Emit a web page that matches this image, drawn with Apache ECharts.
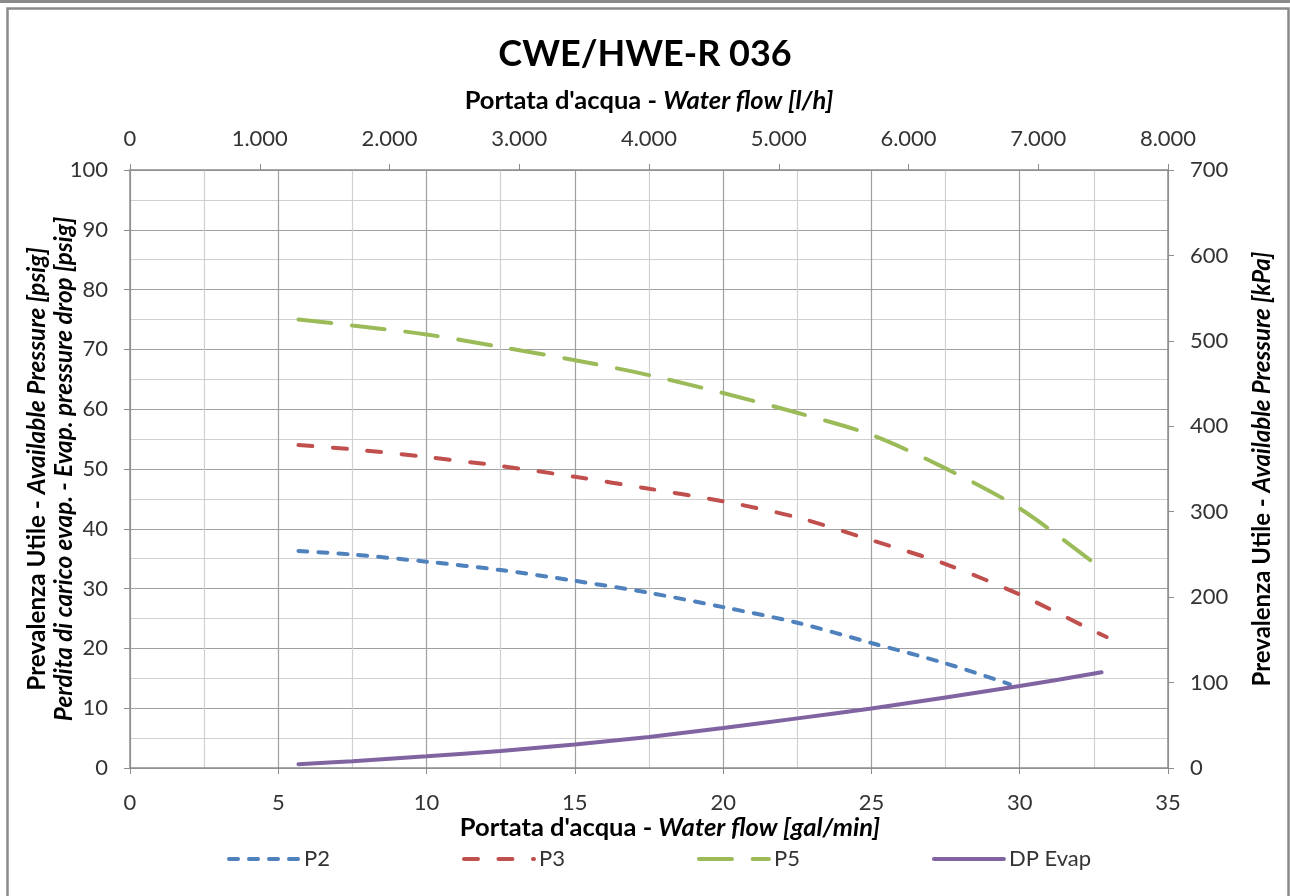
<!DOCTYPE html>
<html>
<head>
<meta charset="utf-8">
<script src="https://cdn.jsdelivr.net/npm/echarts@6/dist/echarts.min.js"></script>
<style>
html,body{margin:0;padding:0;background:#fff;}
#chart{width:1290px;height:896px;}
</style>
</head>
<body>
<div id="chart"></div>
<script>
// ---- data ----
const seriesNames = ['P2', 'P3', 'P5', 'DP Evap'];

const flowP2 = [5.68, 7.5, 10, 12.5, 15, 17.5, 20, 22.5, 25, 27.5, 29.67];
const valP2  = [36.3, 35.7, 34.5, 33.1, 31.3, 29.3, 26.9, 24.3, 20.9, 17.5, 14.0];

const flowP3 = [5.68, 7.5, 10, 12.5, 15, 17.5, 20, 22.5, 25, 27.5, 30, 32.5, 32.93];
const valP3  = [54.0, 53.3, 52.0, 50.5, 48.7, 46.7, 44.6, 41.9, 38.1, 34.1, 29.0, 22.9, 21.9];

const flowP5 = [5.68, 7.5, 10, 12.5, 15, 17.5, 20, 22.5, 25, 27.5, 30, 32.5, 32.7];
const valP5  = [75.0, 74.0, 72.5, 70.4, 68.2, 65.7, 62.7, 59.4, 55.7, 50.1, 43.4, 34.3, 33.5];

const flowDP = [5.68, 7.5, 10, 12.5, 15, 17.5, 20, 22.5, 25, 27.5, 30, 32.76];
const valDP  = [0.64, 1.14, 1.97, 2.86, 3.93, 5.2, 6.7, 8.3, 9.95, 11.8, 13.7, 16.0];

const titleText = 'CWE/HWE-R 036';

// ---- chart ----
const FONT = 'Lato';
const GRID_MAJOR = '#a0a0a0';
const GRID_MINOR = '#d0d0d0';
const AXIS = '#8c8c8c';
const LABEL = '#333333';
const TICK_SIZE = 22;

function pairs(xs, ys) { return xs.map((x, i) => [x, ys[i]]); }
function thousands(v) { return String(v).replace(/\B(?=(\d{3})+(?!\d))/g, '.'); }
function richFor(size, lh) {
  const b = {fontFamily: FONT, fontWeight: 'bold', fontSize: size, color: '#000'};
  const bi = {fontFamily: FONT, fontWeight: 'bold', fontStyle: 'italic', fontSize: size, color: '#000'};
  if (lh) { b.lineHeight = lh; bi.lineHeight = lh; }
  return {b: b, bi: bi};
}

const chart = echarts.init(document.getElementById('chart'), null, {renderer: 'canvas'});

const option = {
  backgroundColor: '#fff',
  animation: false,
  color: ['#4F81BD', '#C0504D', '#9BBB59', '#8064A2'],
  title: {
    text: titleText,
    left: 'center',
    top: 31,
    textStyle: {fontFamily: FONT, fontWeight: 'bold', fontSize: 36, color: '#000'}
  },
  graphic: [
    {type: 'rect', left: 0, top: 0, shape: {width: 1290, height: 3}, style: {fill: '#8a8a8a'}, silent: true},
    {type: 'rect', left: 5, top: 6, shape: {x: 0, y: 0, width: 1281, height: 900}, style: {fill: 'none', stroke: '#8a8a8a', lineWidth: 2.5}, silent: true}
  ],
  legend: {
    data: seriesNames,
    left: 222,
    top: 843,
    itemWidth: 70,
    itemHeight: 14,
    itemGap: 132,
    itemStyle: {opacity: 0},
    lineStyle: {width: 4, cap: 'round'},
    textStyle: {fontFamily: FONT, fontSize: TICK_SIZE, color: LABEL}
  },
  grid: {left: 130, right: 122, top: 170, bottom: 128, containLabel: false, outerBoundsMode: 'none'},
  xAxis: [
    {
      type: 'value', position: 'bottom', min: 0, max: 35, interval: 5,
      name: '{b|Portata d\'acqua - }{bi|Water flow [gal/min]}',
      nameLocation: 'middle', nameGap: 47, nameMoveOverlap: false,
      nameTextStyle: {rich: richFor(25.5), padding: [0, 0, 0, 42]},
      axisLine: {show: true, lineStyle: {color: AXIS, width: 1.5}},
      axisTick: {show: true, inside: false, length: 6, lineStyle: {color: AXIS}},
      axisLabel: {margin: 24, fontFamily: FONT, fontSize: TICK_SIZE, color: LABEL},
      splitLine: {show: true, lineStyle: {color: GRID_MAJOR, width: 1.2}},
      minorTick: {show: false, splitNumber: 2},
      minorSplitLine: {show: true, lineStyle: {color: GRID_MINOR, width: 1.2}}
    },
    {
      type: 'value', position: 'top', min: 0, max: 8000, interval: 1000,
      name: '{b|Portata d\'acqua - }{bi|Water flow [l/h]}',
      nameLocation: 'middle', nameGap: 56, nameMoveOverlap: false,
      nameTextStyle: {rich: richFor(25.5)},
      axisLine: {show: true, onZero: false, lineStyle: {color: AXIS, width: 1.5}},
      axisTick: {show: true, inside: false, length: 6, lineStyle: {color: AXIS}},
      axisLabel: {margin: 20, fontFamily: FONT, fontSize: TICK_SIZE, color: LABEL, formatter: thousands},
      splitLine: {show: false}
    }
  ],
  yAxis: [
    {
      type: 'value', position: 'left', min: 0, max: 100, interval: 10,
      name: '{b|Prevalenza Utile - }{bi|Available Pressure [psig]}\n{bi|Perdita di carico evap. - Evap. pressure drop [psig]}',
      nameLocation: 'middle', nameGap: 52, nameRotate: 90, nameMoveOverlap: false,
      nameTextStyle: {rich: richFor(24.3, 27), lineHeight: 27, align: 'center'},
      axisLine: {show: true, onZero: false, lineStyle: {color: AXIS, width: 1.5}},
      axisTick: {show: true, inside: false, length: 6, lineStyle: {color: AXIS}},
      axisLabel: {margin: 22, fontFamily: FONT, fontSize: TICK_SIZE, color: LABEL},
      splitLine: {show: true, lineStyle: {color: GRID_MAJOR, width: 1.2}},
      minorTick: {show: false, splitNumber: 2},
      minorSplitLine: {show: true, lineStyle: {color: GRID_MINOR, width: 1.2}}
    },
    {
      type: 'value', position: 'right', min: 0, max: 700, interval: 100,
      name: '{b|Prevalenza Utile - }{bi|Available Pressure [kPa]}',
      nameLocation: 'middle', nameGap: 82, nameRotate: 90, nameMoveOverlap: false,
      nameTextStyle: {rich: richFor(24)},
      axisLine: {show: true, onZero: false, lineStyle: {color: AXIS, width: 1.5}},
      axisTick: {show: true, inside: false, length: 6, lineStyle: {color: AXIS}},
      axisLabel: {margin: 22, fontFamily: FONT, fontSize: TICK_SIZE, color: LABEL},
      splitLine: {show: false}
    }
  ],
  series: [
    {
      name: 'P2', type: 'line', xAxisIndex: 0, yAxisIndex: 0, smooth: 0.3,
      showSymbol: false, symbol: 'none',
      lineStyle: {width: 4, type: [9, 11], cap: 'round', color: '#4F81BD'},
      data: pairs(flowP2, valP2)
    },
    {
      name: 'P3', type: 'line', xAxisIndex: 0, yAxisIndex: 0, smooth: 0.3,
      showSymbol: false, symbol: 'none',
      lineStyle: {width: 4, type: [14, 20.5], cap: 'round', color: '#C0504D'},
      data: pairs(flowP3, valP3)
    },
    {
      name: 'P5', type: 'line', xAxisIndex: 0, yAxisIndex: 0, smooth: 0.3,
      showSymbol: false, symbol: 'none',
      lineStyle: {width: 4, type: [33, 20.7], cap: 'round', color: '#9BBB59'},
      data: pairs(flowP5, valP5)
    },
    {
      name: 'DP Evap', type: 'line', xAxisIndex: 0, yAxisIndex: 0, smooth: 0.3,
      showSymbol: false, symbol: 'none',
      lineStyle: {width: 4, type: 'solid', cap: 'round', color: '#8064A2'},
      data: pairs(flowDP, valDP)
    }
  ]
};
chart.setOption(option);
</script>
</body>
</html>
